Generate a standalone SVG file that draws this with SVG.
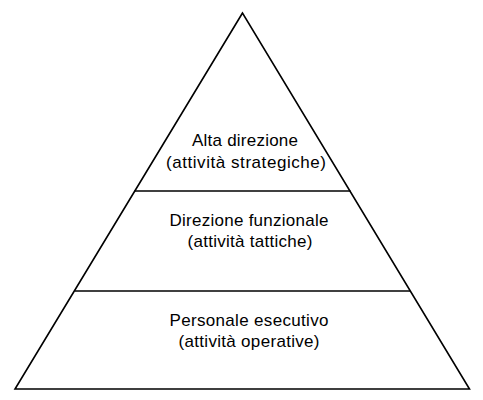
<svg xmlns="http://www.w3.org/2000/svg" width="483" height="400" viewBox="0 0 483 400">
<style>
.ln{fill:none;stroke:#000;stroke-width:1.6;stroke-linejoin:miter}
.t{font-family:"Liberation Sans",Arial,sans-serif;font-size:17px;fill:#000;text-anchor:middle}
</style>
<rect width="483" height="400" fill="#fff"/>
<g id="pyramid">
<polygon class="ln" points="242.5,13 15,389 469.5,389"/>
</g>
<g id="connectors">
<line class="ln" x1="134.5" y1="191" x2="350.5" y2="191"/>
<line class="ln" x1="75" y1="291" x2="410" y2="291"/>
</g>
<g id="level-top">
<text class="t" x="245" y="146" textLength="106" lengthAdjust="spacing">Alta direzione</text>
<text class="t" x="246" y="167.5" textLength="160" lengthAdjust="spacing">(attività strategiche)</text>
</g>
<g id="level-middle">
<text class="t" x="249" y="226" textLength="159" lengthAdjust="spacing">Direzione funzionale</text>
<text class="t" x="250" y="247" textLength="125" lengthAdjust="spacing">(attività tattiche)</text>
</g>
<g id="level-bottom">
<text class="t" x="249" y="326" textLength="159" lengthAdjust="spacing">Personale esecutivo</text>
<text class="t" x="249" y="347" textLength="141" lengthAdjust="spacing">(attività operative)</text>
</g>
</svg>
